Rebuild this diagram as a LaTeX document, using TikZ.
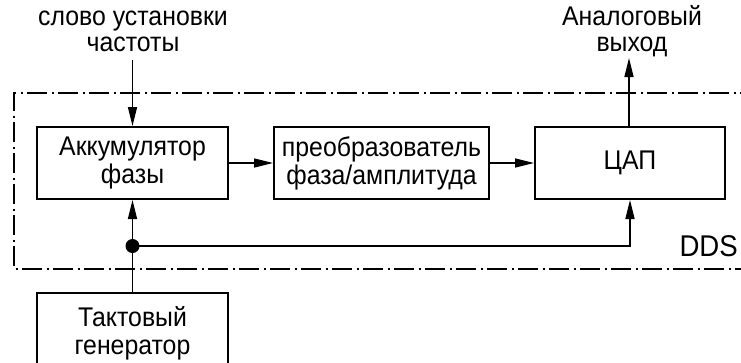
\documentclass[tikz,border=0pt]{standalone}
\usepackage{fontspec}
\setmainfont[FakeStretch=0.92]{Liberation Sans}
\usetikzlibrary{arrows.meta}
\begin{document}
\begin{tikzpicture}[x=1pt,y=-1pt,
  block/.style={draw, line width=2pt, rectangle, align=center,
    minimum height=72pt, inner sep=0pt,
    font=\fontsize{27}{28}\selectfont},
  lbl/.style={align=center, inner sep=0pt,
    font=\fontsize{27}{26}\selectfont},
  wire/.style={line width=1.5pt},
  flow/.style={wire, -{Triangle[length=19pt,width=9pt]}},
  frame/.style={line width=2pt,
    dash pattern=on 20pt off 4.5pt on 2pt off 4.5pt}]
  \useasboundingbox (0,0) rectangle (741,362);
  \clip (0,0) rectangle (741,362);

  % DDS boundary, open to the right
  \draw[frame] (760,93) -- (14,93) -- (14,269) -- (760,269);
  \node[anchor=base east, inner sep=0pt, font=\fontsize{30}{30}\selectfont]
    (ddslbl) at (738,256) {DDS};

  % blocks
  \node[block, minimum width=191pt] (acc) at (132.5,163)
    {Аккумулятор\\фазы};
  \node[block, minimum width=215pt] (conv) at (381.5,163)
    {преобразователь\\фаза/амплитуда};
  \node[block, minimum width=190pt] (dac) at (630,163) {ЦАП};
  \node[block, minimum width=191pt, minimum height=80pt] (clk) at (132.5,333)
    {Тактовый\\генератор};

  % external labels
  \node[lbl] (inword) at (133,31) {слово установки\\частоты};
  \node[lbl] (outlbl) at (632,31) {Аналоговый\\выход};

  % signal flow
  \draw[flow] (132.5,60) -- (acc.north);
  \draw[flow] (acc.east) -- (conv.west);
  \draw[flow] (conv.east) -- (dac.west);
  \draw[flow] (dac.north -| 629,0) -- (629,58) coordinate (outend);

  % clock distribution
  \coordinate (jn) at (132.5,246);
  \draw[wire] (clk.north) -- (jn);
  \draw[flow] (jn) -- (acc.south);
  \draw[flow] (jn) -| (dac.south);
  \fill (jn) circle (7pt);
\end{tikzpicture}
\end{document}
